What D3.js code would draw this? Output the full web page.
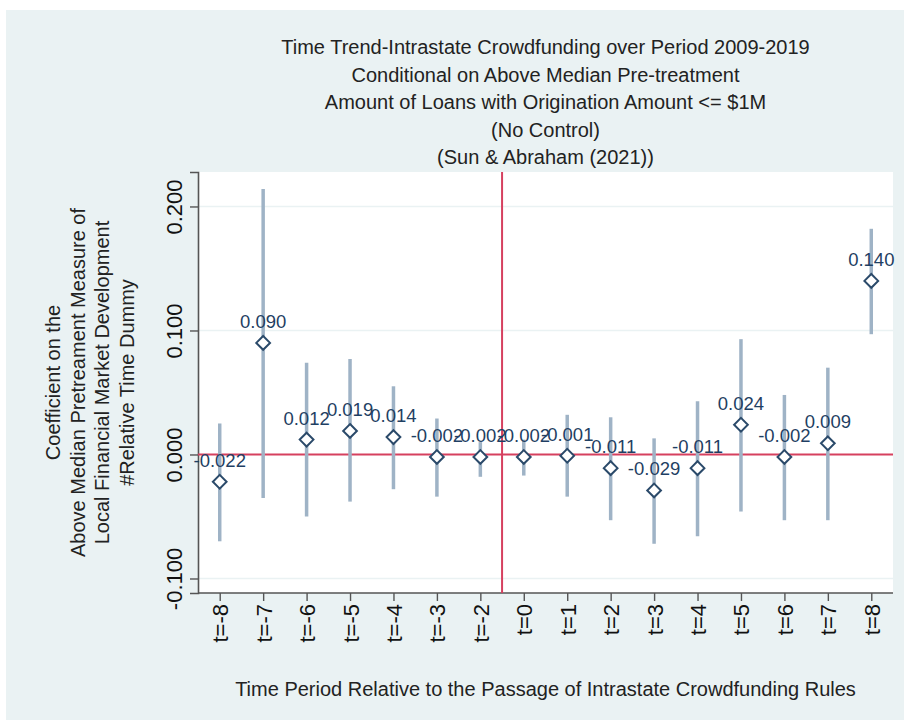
<!DOCTYPE html>
<html>
<head>
<meta charset="utf-8">
<script src="https://cdn.jsdelivr.net/npm/d3@7"></script>
<style>
  html, body { margin: 0; padding: 0; background: #ffffff; }
  svg { display: block; }
  text { font-family: "Liberation Sans", Arial, sans-serif; }
</style>
</head>
<body>
<svg id="chart" width="904" height="722"></svg>
<script>
// Event-study coefficients by relative period, with 95% CI bounds
const periods = ["t=-8","t=-7","t=-6","t=-5","t=-4","t=-3","t=-2","t=0","t=1","t=2","t=3","t=4","t=5","t=6","t=7","t=8"];
const coef    = [-0.022, 0.090, 0.012, 0.019, 0.014, -0.002, -0.002, -0.002, -0.001, -0.011, -0.029, -0.011, 0.024, -0.002, 0.009, 0.140];
const ciLow   = [-0.070, -0.035, -0.050, -0.038, -0.028, -0.034, -0.018, -0.017, -0.034, -0.053, -0.072, -0.066, -0.046, -0.053, -0.053, 0.097];
const ciHigh  = [0.025, 0.214, 0.074, 0.077, 0.055, 0.029, 0.010, 0.012, 0.032, 0.030, 0.013, 0.043, 0.093, 0.048, 0.070, 0.182];
const yTicks  = [-0.1, 0, 0.1, 0.2];

const titleLines = [
  "Time Trend-Intrastate Crowdfunding over Period 2009-2019",
  "Conditional on Above Median Pre-treatment",
  "Amount of Loans with Origination Amount <= $1M",
  "(No Control)",
  "(Sun & Abraham (2021))"
];
const yTitleLines = [
  "Coefficient on the",
  "Above Median Pretreament Measure of",
  "Local Financial Market Development",
  "#Relative Time Dummy"
];
const xTitle = "Time Period Relative to the Passage of Intrastate Crowdfunding Rules";

const data = periods.map((p, i) => ({ p, b: coef[i], lo: ciLow[i], hi: ciHigh[i] }));

// Number format with a plain hyphen for negatives
const fmt3 = d3.formatLocale({ decimal: ".", thousands: ",", grouping: [3], currency: ["$", ""], minus: "-" }).format(".3f");

const svg = d3.select("#chart");
const plot = { left: 198, right: 893, top: 172, bottom: 593 };

// Outer graph region
svg.append("rect").attr("x", 6).attr("y", 10).attr("width", 898).attr("height", 710)
  .attr("fill", "#eaf2f3");
// Plot region
svg.append("rect").attr("x", plot.left).attr("y", plot.top)
  .attr("width", plot.right - plot.left).attr("height", plot.bottom - plot.top)
  .attr("fill", "#ffffff");

const x = d3.scalePoint().domain(periods).range([plot.left, plot.right]).padding(0.5);
const y = d3.scaleLinear().domain([-0.1117, 0.2278]).range([plot.bottom, plot.top]);

// Horizontal grid lines
svg.append("g").selectAll("line").data(yTicks.filter(v => v !== 0)).join("line")
  .attr("x1", plot.left).attr("x2", plot.right)
  .attr("y1", d => y(d)).attr("y2", d => y(d))
  .attr("stroke", "#eaf2f3").attr("stroke-width", 1.5);

// Y axis
const yAxis = svg.append("g").attr("transform", `translate(${plot.left},0)`)
  .call(d3.axisLeft(y).tickValues(yTicks).tickFormat(fmt3).tickSize(8).tickPadding(6));
yAxis.select(".domain").attr("stroke", "#555").attr("stroke-width", 1.6);
yAxis.selectAll(".tick line").attr("stroke", "#555").attr("stroke-width", 1.4);
yAxis.selectAll(".tick text")
  .attr("x", 0).attr("y", 0).attr("dy", null)
  .attr("transform", "translate(-16,0) rotate(-90)")
  .attr("text-anchor", "middle")
  .attr("font-size", 22).attr("fill", "#111");

// X axis
const xAxis = svg.append("g").attr("transform", `translate(0,${plot.bottom})`)
  .call(d3.axisBottom(x).tickSize(8).tickPadding(6));
xAxis.select(".domain").attr("stroke", "#555").attr("stroke-width", 1.6)
  .attr("d", `M${plot.left},0H${plot.right}`);
xAxis.selectAll(".tick line").attr("stroke", "#555").attr("stroke-width", 1.4);
xAxis.selectAll(".tick text")
  .attr("x", 0).attr("y", 0).attr("dy", null)
  .attr("transform", "translate(8,11) rotate(-90)")
  .attr("text-anchor", "end")
  .attr("font-size", 22).attr("fill", "#111");

// Reference lines at zero and at the policy date
svg.append("line")
  .attr("x1", plot.left).attr("x2", plot.right)
  .attr("y1", y(0)).attr("y2", y(0))
  .attr("stroke", "#d6405f").attr("stroke-width", 2);
const xPolicy = (x("t=-2") + x("t=0")) / 2;
svg.append("line")
  .attr("x1", xPolicy).attr("x2", xPolicy)
  .attr("y1", plot.top).attr("y2", plot.bottom)
  .attr("stroke", "#d6405f").attr("stroke-width", 2);

// Confidence intervals
svg.append("g").selectAll("line").data(data).join("line")
  .attr("x1", d => x(d.p)).attr("x2", d => x(d.p))
  .attr("y1", d => y(d.lo)).attr("y2", d => y(d.hi))
  .attr("stroke", "#9fb3c6").attr("stroke-width", 3.5);

// Point estimates (hollow diamonds)
svg.append("g").selectAll("path").data(data).join("path")
  .attr("d", d3.symbol(d3.symbolDiamond2, 120))
  .attr("transform", d => `translate(${x(d.p)},${y(d.b)})`)
  .attr("fill", "#ffffff").attr("stroke", "#2b4a6a").attr("stroke-width", 2);

// Value labels
svg.append("g").selectAll("text").data(data).join("text")
  .attr("x", d => x(d.p)).attr("y", d => y(d.b) - 15)
  .attr("text-anchor", "middle")
  .attr("font-size", 18.5).attr("fill", "#1f3f63")
  .text(d => fmt3(d.b));

// Title
svg.append("g").selectAll("text").data(titleLines).join("text")
  .attr("x", (plot.left + plot.right) / 2)
  .attr("y", (d, i) => 54 + i * 27.5)
  .attr("text-anchor", "middle")
  .attr("font-size", 20).attr("fill", "#222")
  .text(d => d);

// Y axis title
svg.append("g").selectAll("text").data(yTitleLines).join("text")
  .attr("transform", (d, i) => `translate(${[60, 85, 109, 134][i]},${(plot.top + plot.bottom) / 2}) rotate(-90)`)
  .attr("text-anchor", "middle")
  .attr("font-size", 20).attr("fill", "#222")
  .text(d => d);

// X axis title
svg.append("text")
  .attr("x", (plot.left + plot.right) / 2).attr("y", 696)
  .attr("text-anchor", "middle")
  .attr("font-size", 20).attr("fill", "#222")
  .text(xTitle);
</script>
</body>
</html>
